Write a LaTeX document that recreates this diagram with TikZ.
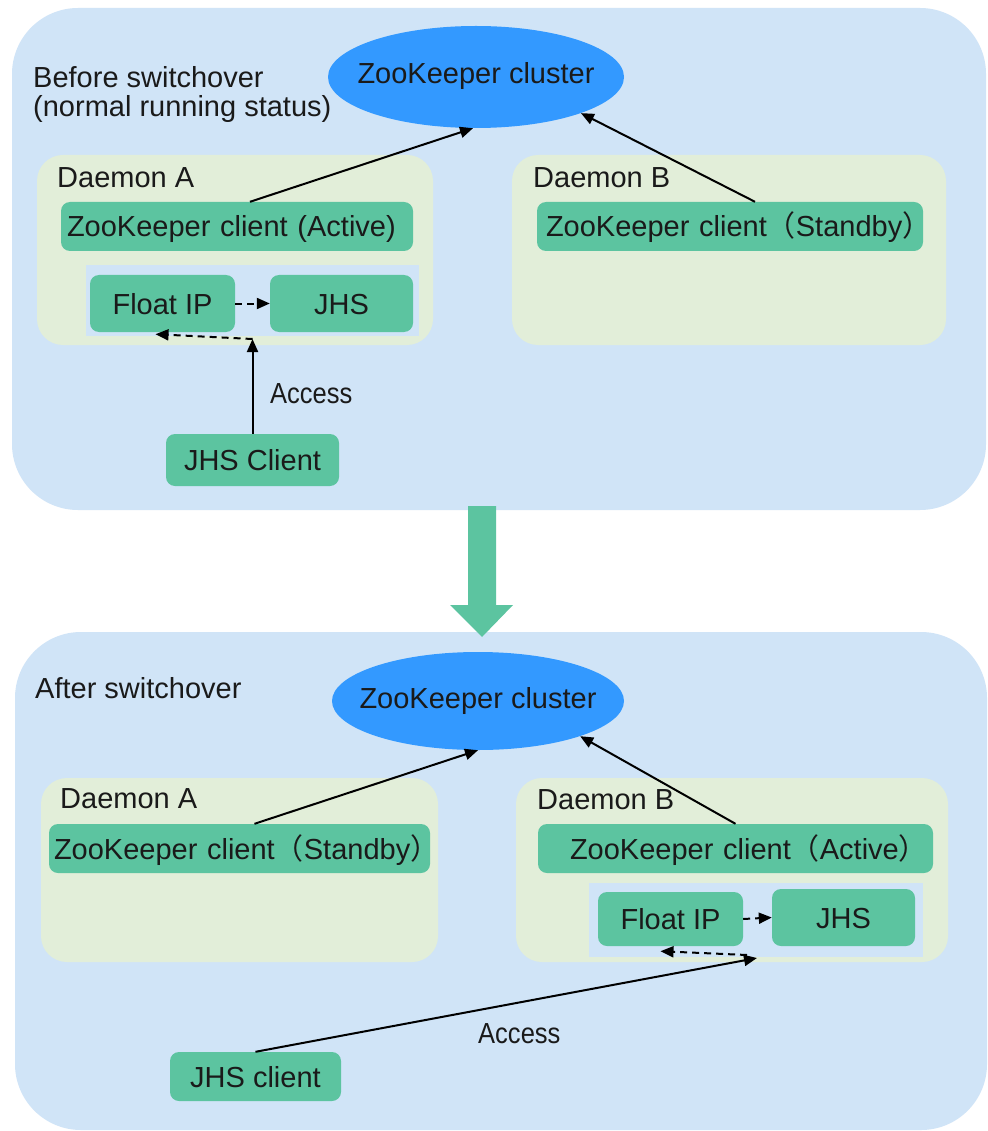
\documentclass[tikz,border=0pt]{standalone}
\usepackage{fontspec}
\setmainfont{Liberation Sans}
\newfontfamily\cjk{Noto Sans CJK SC}
\usetikzlibrary{arrows.meta,shapes.geometric}
\definecolor{panelblue}{HTML}{D0E4F7}
\definecolor{daemongreen}{HTML}{E2EED9}
\definecolor{boxgreen}{HTML}{5CC4A0}
\definecolor{zkblue}{HTML}{3399FF}
\definecolor{txt}{HTML}{1A1A1A}
\tikzset{
  every node/.style={font=\fontsize{29pt}{34pt}\selectfont, text=txt},
  panel/.style={fill=panelblue, rounded corners=66pt, inner sep=0pt},
  daemon/.style={fill=daemongreen, rounded corners=26pt, inner sep=0pt},
  innerbox/.style={fill=panelblue, inner sep=0pt},
  gbox/.style={fill=boxgreen, rounded corners=9pt, inner sep=0pt, text height=21pt, text depth=0pt},
  gleft/.style={gbox, align=left, inner xsep=#1},
  zk/.style={ellipse, fill=zkblue, inner ysep=0pt, inner xsep=-30pt, text height=21pt, text depth=7pt},
  lbl/.style={anchor=base west, inner sep=0pt},
  conn/.style={draw=black, line width=2pt, -{Triangle[length=13pt,width=11pt]}},
  dconn/.style={conn, dash pattern=on 7pt off 5pt},
  bigarrow/.style={fill=boxgreen}
}
\begin{document}
\begin{tikzpicture}[x=1pt,y=-1pt]
\useasboundingbox (0,0) rectangle (987,1131);
\fill[white] (0,0) rectangle (987,1131);
% ---------- top panel ----------
\node[panel, minimum width=974pt, minimum height=502pt] (panel1) at (499,259) {};
\node[zk, minimum width=296pt, minimum height=102pt] (zk1) at (476,77) {ZooKeeper cluster};
\node[lbl] (t1a) at (33,88) {Before switchover};
\node[lbl] (t1b) at (33,117) {(normal running status)};
\node[daemon, minimum width=396pt, minimum height=190pt] (dA1) at (235,250) {};
\node[daemon, minimum width=434pt, minimum height=190pt] (dB1) at (729,250) {};
\node[lbl] (ldA1) at (57,188) {Daemon A};
\node[lbl] (ldB1) at (533,188) {Daemon B};
\node[gleft=6pt, text width=340pt, minimum height=49pt] (zkA1) at (237,226.5) {\mbox{ZooKeeper client (Active)}};
\node[gleft=9pt, text width=368pt, minimum height=49pt] (zkB1) at (730,226.5) {\mbox{ZooKeeper client{\cjk （}Standby{\cjk ）}}};
\node[innerbox, minimum width=333pt, minimum height=71pt] (in1) at (252.5,300.5) {};
\node[gbox, minimum width=145pt, minimum height=57pt] (fip1) at (162.5,303.5) {Float IP};
\node[gbox, minimum width=143pt, minimum height=57pt] (jhs1) at (341.5,303.5) {JHS};
\node[gbox, minimum width=173pt, minimum height=52pt] (cli1) at (252.5,460) {JHS Client};
\node[lbl] (acl1) at (270,403) {\scalebox{0.88}[1]{Access}};
\coordinate (acc1) at (252.5,339);
\draw[conn] ([xshift=13pt]zkA1.north) -- ([xshift=-3pt]zk1.south);
\draw[conn] ([xshift=25pt]zkB1.north) -- (zk1.-19);
\draw[dconn] (fip1.east) -- (jhs1.west);
\draw[conn] (cli1.north) -- (acc1);
\draw[dconn] (acc1) -- ([xshift=-7pt,yshift=-2pt]fip1.south);
% ---------- bottom panel ----------
\node[panel, minimum width=972pt, minimum height=498pt] (panel2) at (501,881) {};
\node[zk, minimum width=292pt, minimum height=98pt] (zk2) at (478,701) {ZooKeeper cluster};
\node[lbl] (t2) at (35,698) {After switchover};
\node[daemon, minimum width=397pt, minimum height=184pt] (dA2) at (239.5,870) {};
\node[daemon, minimum width=432pt, minimum height=184pt] (dB2) at (732,870) {};
\node[lbl] (ldA2) at (60,808) {Daemon A};
\node[lbl] (ldB2) at (537,809) {Daemon B};
\node[gleft=5pt, text width=371pt, minimum height=49pt] (zkA2) at (239.5,848.5) {\mbox{ZooKeeper client{\cjk （}Standby{\cjk ）}}};
\node[gleft=32pt, text width=331pt, minimum height=49pt] (zkB2) at (735.5,848.5) {\mbox{ZooKeeper client{\cjk （}Active{\cjk ）}}};
\node[innerbox, minimum width=334pt, minimum height=74pt] (in2) at (756,920) {};
\node[gbox, minimum width=145pt, minimum height=54pt] (fip2) at (670.5,919) {Float IP};
\node[gbox, minimum width=143pt, minimum height=57pt] (jhs2) at (843.5,917.5) {JHS};
\node[gbox, minimum width=171pt, minimum height=49pt] (cli2) at (255.5,1076.5) {JHS client};
\node[lbl] (acl2) at (478,1043) {\scalebox{0.88}[1]{Access}};
\coordinate (acc2) at (757,958);
\draw[conn] ([xshift=15pt]zkA2.north) -- (zk2.south);
\draw[conn] (zkB2.north) -- (zk2.-19);
\draw[dconn] (fip2.east) -- (jhs2.west);
\draw[conn] (cli2.north) -- (acc2);
\draw[dconn] ([xshift=-10pt,yshift=3pt]acc2) -- ([xshift=-10pt,yshift=-5pt]fip2.south);
% ---------- big transition arrow ----------
\fill[bigarrow] (468,506) -- (496,506) -- (496,605) -- (513,605) -- (482,637) -- (450,605) -- (468,605) -- cycle;
\end{tikzpicture}
\end{document}
